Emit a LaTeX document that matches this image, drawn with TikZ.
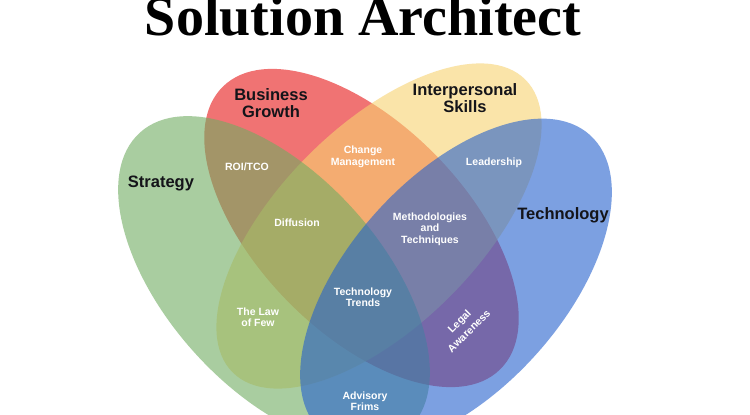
\documentclass[tikz,border=0pt]{standalone}
\usepackage{fontspec}
\setmainfont{Liberation Serif}
\newfontfamily\lsans{Liberation Sans}
\definecolor{cred}{RGB}{230,22,22}
\definecolor{cyel}{RGB}{247,210,113}
\definecolor{cgrn}{RGB}{113,172,97}
\definecolor{cblu}{RGB}{38,97,205}
\definecolor{dark}{RGB}{20,20,25}
\begin{document}
\begin{tikzpicture}[x=1pt,y=1pt,
  setfill/.style={fill=#1,fill opacity=0.6,draw=none},
  biglabel/.style={text=dark,font=\lsans\bfseries\fontsize{16.5}{16.5}\selectfont,align=center,inner sep=0pt},
  smalllabel/.style={text=white,font=\lsans\bfseries\fontsize{10.5}{11.5}\selectfont,align=center,inner sep=0pt}]
\useasboundingbox (0,0) rectangle (750,-415);
\clip (0,0) rectangle (750,-415);
\fill[white] (0,0) rectangle (750,-415);
% ellipses (red, yellow, green, blue)
\path[setfill=cred, rotate around={-45.6:(361.5,-228)}] (361.5,-228) ellipse [x radius=198, y radius=104];
\path[setfill=cyel, rotate around={45:(379,-226)}] (379,-226) ellipse [x radius=207, y radius=100];
\path[setfill=cgrn, rotate around={-47.9:(274,-281)}] (274,-281) ellipse [x radius=200, y radius=107];
\path[setfill=cblu, rotate around={47.9:(456,-283.5)}] (456,-283.5) ellipse [x radius=200, y radius=107];
% title
\node[anchor=base,inner sep=0pt,font=\bfseries\fontsize{56}{56}\selectfont] (title) at (363,-35) {Solution Architect};
% set labels
\node[biglabel] (bg) at (271,-103) {Business\\Growth};
\node[biglabel] (ip) at (465,-98) {Interpersonal\\Skills};
\node[biglabel] (st) at (161,-183) {Strategy};
\node[biglabel] (te) at (563,-215) {Technology};
% region labels
\node[smalllabel] (roi) at (247,-167) {ROI/TCO};
\node[smalllabel] (cm) at (363,-157) {Change\\Management};
\node[smalllabel] (ld) at (494,-163) {Leadership};
\node[smalllabel] (df) at (297,-223) {Diffusion};
\node[smalllabel] (mt) at (430,-229) {Methodologies\\and\\Techniques};
\node[smalllabel] (tt) at (363,-297) {Technology\\Trends};
\node[smalllabel] (lf) at (258,-317) {The Law\\of Few};
\node[smalllabel,rotate=45] (la1) at (460,-322) {Legal};
\node[smalllabel,rotate=45] (la2) at (469,-331) {Awareness};
\node[smalllabel] (af) at (365,-401) {Advisory\\Frims};
\end{tikzpicture}
\end{document}
